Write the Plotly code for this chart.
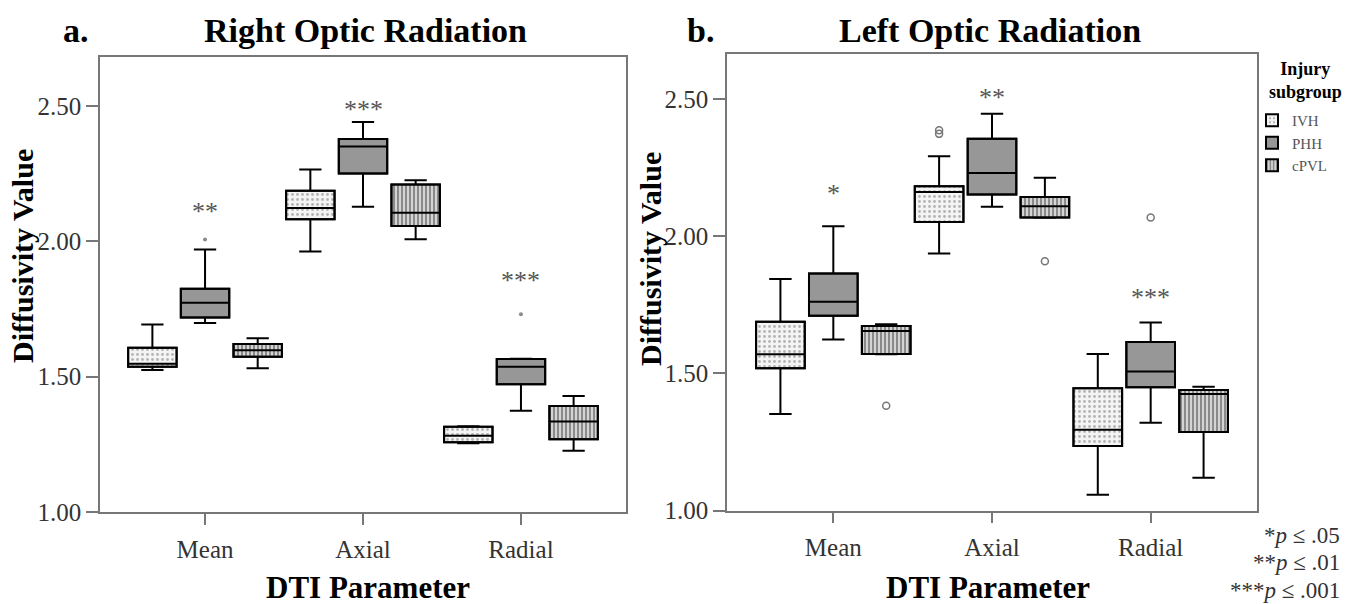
import plotly.graph_objects as go

# ---------------- data ----------------
params = ["Mean", "Axial", "Radial"]
groups = ["IVH", "PHH", "cPVL"]
y_ticks = [1.0, 1.5, 2.0, 2.5]

# Panel a: Right Optic Radiation (ordered Mean, Axial, Radial)
a_ivh_low = [1.525, 1.962, 1.254]
a_ivh_q1 = [1.537, 2.082, 1.258]
a_ivh_med = [1.548, 2.123, 1.282]
a_ivh_q3 = [1.607, 2.187, 1.315]
a_ivh_high = [1.693, 2.265, 1.317]
a_ivh_out = [[], [], []]

a_phh_low = [1.698, 2.128, 1.374]
a_phh_q1 = [1.719, 2.251, 1.472]
a_phh_med = [1.773, 2.350, 1.537]
a_phh_q3 = [1.825, 2.378, 1.565]
a_phh_high = [1.970, 2.441, 1.566]
a_phh_out = [[2.007], [], [1.731]]

a_cpvl_low = [1.531, 2.008, 1.226]
a_cpvl_q1 = [1.574, 2.057, 1.269]
a_cpvl_med = [1.598, 2.106, 1.334]
a_cpvl_q3 = [1.621, 2.210, 1.392]
a_cpvl_high = [1.642, 2.226, 1.429]
a_cpvl_out = [[], [], []]

# Panel b: Left Optic Radiation
b_ivh_low = [1.352, 1.937, 1.058]
b_ivh_q1 = [1.519, 2.052, 1.236]
b_ivh_med = [1.570, 2.161, 1.295]
b_ivh_q3 = [1.688, 2.182, 1.446]
b_ivh_high = [1.844, 2.291, 1.571]
b_ivh_out = [[], [2.373, 2.386], []]

b_phh_low = [1.624, 2.107, 1.320]
b_phh_q1 = [1.710, 2.152, 1.450]
b_phh_med = [1.761, 2.230, 1.507]
b_phh_q3 = [1.864, 2.355, 1.615]
b_phh_high = [2.036, 2.446, 1.686]
b_phh_out = [[], [], [2.068]]

b_cpvl_low = [1.570, 2.067, 1.120]
b_cpvl_q1 = [1.571, 2.068, 1.287]
b_cpvl_med = [1.655, 2.109, 1.425]
b_cpvl_q3 = [1.673, 2.143, 1.440]
b_cpvl_high = [1.679, 2.213, 1.452]
b_cpvl_out = [[1.382], [1.909], []]

# significance labels (one per parameter) and their heights
a_sig_labels = ["**", "***", "***"]
a_sig_y = [2.110, 2.486, 1.855]
b_sig_labels = ["*", "**", "***"]
b_sig_y = [2.156, 2.507, 1.778]

# ---------------- figure ----------------
W, H = 1347, 604
def px(x):
    return x / W
def py(y):
    return 1 - y / H

FONT = "Liberation Serif"

fills = {
    "IVH": dict(color="#f4f4f4",
                pattern=dict(shape=".", fgcolor="#b4b4b4", bgcolor="#f4f4f4", size=5, solidity=0.25)),
    "PHH": dict(color="#979797"),
    "cPVL": dict(color="#d4d4d4",
                 pattern=dict(shape="|", fgcolor="#6a6a6a", bgcolor="#d4d4d4", size=4, solidity=0.35)),
}

panels = [
    dict(xa="x", ya="y", ag="a", legend=True,
         marker=dict(symbol="circle", size=4, color="#8a8a8a"),
         data={"IVH": (a_ivh_low, a_ivh_q1, a_ivh_med, a_ivh_q3, a_ivh_high, a_ivh_out),
               "PHH": (a_phh_low, a_phh_q1, a_phh_med, a_phh_q3, a_phh_high, a_phh_out),
               "cPVL": (a_cpvl_low, a_cpvl_q1, a_cpvl_med, a_cpvl_q3, a_cpvl_high, a_cpvl_out)}),
    dict(xa="x2", ya="y2", ag="b", legend=False,
         marker=dict(symbol="circle-open", size=7, color="#777777", line=dict(width=1.5, color="#777777")),
         data={"IVH": (b_ivh_low, b_ivh_q1, b_ivh_med, b_ivh_q3, b_ivh_high, b_ivh_out),
               "PHH": (b_phh_low, b_phh_q1, b_phh_med, b_phh_q3, b_phh_high, b_phh_out),
               "cPVL": (b_cpvl_low, b_cpvl_q1, b_cpvl_med, b_cpvl_q3, b_cpvl_high, b_cpvl_out)}),
]

fig = go.Figure()
for p in panels:
    for g in groups:
        low, q1, med, q3, high, outs = p["data"][g]
        fig.add_trace(go.Bar(
            x=params, y=[b - a for a, b in zip(q1, q3)], base=q1, name=g,
            marker=dict(**fills[g], line=dict(color="black", width=2)),
            xaxis=p["xa"], yaxis=p["ya"], offsetgroup=g, alignmentgroup=p["ag"],
            showlegend=p["legend"], hoverinfo="skip"))
    for g in groups:
        low, q1, med, q3, high, outs = p["data"][g]
        for i, cat in enumerate(params):
            kw = {}
            if outs[i]:
                kw["y"] = [outs[i]]
            fig.add_trace(go.Box(
                x=[cat], q1=[q1[i]], median=[med[i]], q3=[q3[i]],
                lowerfence=[low[i]], upperfence=[high[i]],
                orientation="v", boxpoints="outliers", jitter=0, pointpos=0,
                fillcolor="rgba(0,0,0,0)", line=dict(color="black", width=2), whiskerwidth=0.46,
                marker=p["marker"], name=g, offsetgroup=g, alignmentgroup=p["ag"],
                xaxis=p["xa"], yaxis=p["ya"], showlegend=False, hoverinfo="skip", **kw))

axis_common = dict(showline=True, linecolor="#777777", linewidth=1.5, mirror=True,
                   ticks="outside", tickwidth=1.5, tickcolor="#777777",
                   showgrid=False, zeroline=False, automargin=False,
                   tickfont=dict(size=25, family=FONT, color="#333333"))

fig.update_layout(
    template="none",
    width=W, height=H, autosize=False, margin=dict(l=0, r=0, t=0, b=0, pad=0),
    paper_bgcolor="white", plot_bgcolor="white",
    barmode="group", bargap=0, bargroupgap=0.08,
    boxmode="group", boxgap=0, boxgroupgap=0.08,
    font=dict(family=FONT, color="#333333"),
    xaxis=dict(domain=[px(100), px(626)], anchor="y", range=[-0.665, 2.665],
               categoryorder="array", categoryarray=params,
               ticklen=11, ticklabelstandoff=3, **axis_common),
    yaxis=dict(domain=[py(512), py(57)], anchor="x", range=[1.0, 2.681],
               tickvals=y_ticks, tickformat=".2f", ticklen=12, **axis_common),
    xaxis2=dict(domain=[px(727), px(1257)], anchor="y2", range=[-0.67, 2.67],
                categoryorder="array", categoryarray=params,
                ticklen=11, ticklabelstandoff=3, **axis_common),
    yaxis2=dict(domain=[py(510.7), py(54)], anchor="x2", range=[1.0, 2.664],
                tickvals=y_ticks, tickformat=".2f", ticklen=12, **axis_common),
    legend=dict(x=px(1252), y=py(104), xanchor="left", yanchor="top",
                font=dict(size=15, color="#555555", family=FONT),
                itemwidth=30, bgcolor="rgba(0,0,0,0)", borderwidth=0, tracegroupgap=0),
)

ann = []
def text(x, y, s, size, color="black", xanchor="center", **kw):
    ann.append(dict(x=px(x), y=py(y), xref="paper", yref="paper", text=s, showarrow=False,
                    xanchor=xanchor, yanchor="middle",
                    font=dict(size=size, color=color, family=FONT), **kw))

text(76, 31, "<b>a.</b>", 34)
text(365, 31, "<b>Right Optic Radiation</b>", 34)
text(700, 31, "<b>b.</b>", 34)
text(990, 31, "<b>Left Optic Radiation</b>", 34)
text(23, 256, "<b>Diffusivity Value</b>", 30, textangle=-90)
text(650, 259, "<b>Diffusivity Value</b>", 30, textangle=-90)
text(368, 587, "<b>DTI Parameter</b>", 31)
text(988, 587, "<b>DTI Parameter</b>", 31)
text(1305, 80, "<b>Injury<br>subgroup</b>", 18)
text(1342, 535, "*<i>p</i> ≤ .05", 23, color="#333333", xanchor="right")
text(1342, 562, "**<i>p</i> ≤ .01", 23, color="#333333", xanchor="right")
text(1342, 590, "***<i>p</i> ≤ .001", 23, color="#333333", xanchor="right")

for xr, yr, labels, ys in [("x", "y", a_sig_labels, a_sig_y), ("x2", "y2", b_sig_labels, b_sig_y)]:
    for cat, lab, yv in zip(params, labels, ys):
        ann.append(dict(x=cat, y=yv, xref=xr, yref=yr, text=lab, showarrow=False,
                        xanchor="center", yanchor="middle",
                        font=dict(size=26, color="#555555", family=FONT)))

fig.update_layout(annotations=ann)
fig.write_html("out.html", config={"displayModeBar": False},
               post_script="document.body.style.margin='0';document.body.style.overflow='hidden';")
